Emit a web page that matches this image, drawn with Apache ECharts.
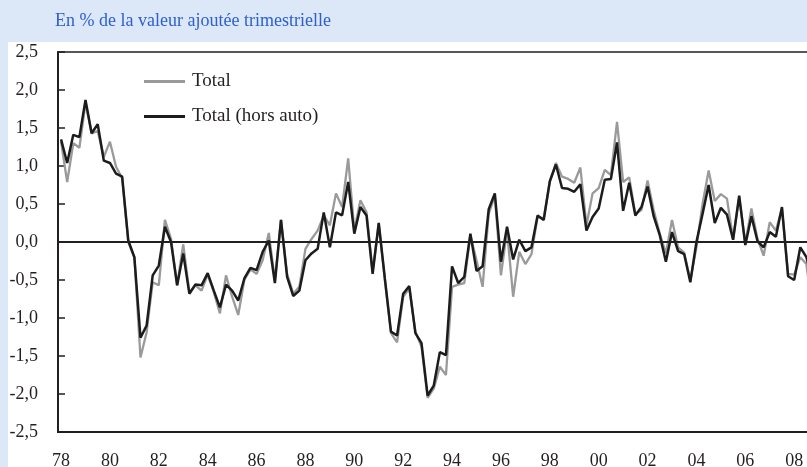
<!DOCTYPE html>
<html style="height: 100%">
	<head>
		<meta charset="utf-8">
	</head>
	<body style="height: 100%; margin: 0; background: #dce8f7; overflow: hidden">
		<div id="container" style="width: 840px; height: 467px"></div>
		<script type="text/javascript" src="https://cdn.jsdelivr.net/npm/echarts@6/dist/echarts.min.js"></script>
		<script type="text/javascript">
			// trimestres 1978T1 .. 2009T4 (axe plus long que la fenetre, coupé à droite)
			var quarters = [];
			for (var y = 1978; y <= 2009; y++) {
				for (var q = 1; q <= 4; q++) {
					quarters.push(y + 'T' + q);
				}
			}

			// Total
			var total = [
				1.32, 0.79, 1.30, 1.24, 1.83, 1.43, 1.46, 1.12, 1.32, 0.99,
				0.84, 0.00, -0.20, -1.52, -1.19, -0.53, -0.57, 0.29, 0.04, -0.57,
				-0.03, -0.66, -0.57, -0.64, -0.43, -0.66, -0.94, -0.44, -0.72, -0.96,
				-0.50, -0.36, -0.42, -0.24, 0.12, -0.50, 0.29, -0.42, -0.68, -0.59,
				-0.09, 0.04, 0.15, 0.35, 0.22, 0.64, 0.46, 1.10, 0.15, 0.55,
				0.39, -0.39, 0.24, -0.50, -1.20, -1.32, -0.72, -0.61, -1.18, -1.38,
				-2.05, -1.93, -1.64, -1.75, -0.59, -0.56, -0.54, 0.09, -0.24, -0.59,
				0.37, 0.61, -0.44, 0.15, -0.72, -0.13, -0.29, -0.16, 0.33, 0.31,
				0.79, 1.04, 0.86, 0.83, 0.78, 0.98, 0.22, 0.64, 0.71, 0.95,
				0.88, 1.58, 0.79, 0.85, 0.37, 0.42, 0.81, 0.42, 0.11, -0.15,
				0.29, -0.07, -0.14, -0.50, -0.07, 0.50, 0.94, 0.54, 0.63, 0.57,
				0.04, 0.59, -0.02, 0.44, 0.04, -0.18, 0.26, 0.15, 0.44, -0.42,
				-0.43, -0.20, -0.29, -0.90
			];

			// Total (hors auto)
			var horsAuto = [
				1.35, 1.04, 1.41, 1.38, 1.87, 1.43, 1.55, 1.07, 1.04, 0.90,
				0.86, 0.02, -0.20, -1.26, -1.10, -0.44, -0.31, 0.20, 0.00, -0.57,
				-0.15, -0.68, -0.56, -0.57, -0.41, -0.64, -0.86, -0.56, -0.64, -0.77,
				-0.48, -0.34, -0.37, -0.13, 0.02, -0.54, 0.29, -0.46, -0.71, -0.64,
				-0.24, -0.15, -0.09, 0.39, -0.07, 0.39, 0.35, 0.79, 0.11, 0.46,
				0.35, -0.42, 0.25, -0.48, -1.18, -1.23, -0.68, -0.58, -1.20, -1.33,
				-2.02, -1.89, -1.45, -1.49, -0.32, -0.54, -0.46, 0.11, -0.38, -0.32,
				0.43, 0.64, -0.26, 0.20, -0.23, 0.03, -0.12, -0.07, 0.35, 0.29,
				0.80, 1.02, 0.71, 0.70, 0.66, 0.76, 0.15, 0.33, 0.44, 0.82,
				0.83, 1.31, 0.41, 0.78, 0.35, 0.46, 0.73, 0.34, 0.09, -0.26,
				0.13, -0.12, -0.16, -0.53, 0.00, 0.37, 0.75, 0.25, 0.45, 0.36,
				0.03, 0.61, -0.04, 0.34, 0.01, -0.07, 0.13, 0.07, 0.46, -0.45,
				-0.50, -0.07, -0.20, -0.50
			];

			var font = 'Liberation Serif';
			var ink = '#231f20';

			var dom = document.getElementById("container");
			var myChart = echarts.init(dom);
			var option = {
				backgroundColor: '#dce8f7',
				animation: false,
				graphic: [{
					type: 'rect',
					left: 8,
					top: 42,
					z: -10,
					shape: { width: 840, height: 426 },
					style: { fill: '#ffffff' }
				}],
				title: {
					text: 'En % de la valeur ajoutée trimestrielle',
					left: 50,
					top: 7,
					textStyle: {
						fontFamily: font,
						fontWeight: 'normal',
						fontSize: 18,
						color: '#2d5fd0'
					}
				},
				legend: {
					orient: 'vertical',
					left: 144,
					top: 72,
					padding: 0,
					icon: 'rect',
					itemWidth: 41,
					itemHeight: 3,
					itemGap: 16,
					textStyle: {
						fontFamily: font,
						fontSize: 19,
						color: ink,
						padding: [0, 0, 0, 2]
					},
					data: ['Total', 'Total (hors auto)']
				},
				grid: {
					left: 58,
					top: 52,
					right: 0,
					height: 380,
					outerBoundsMode: 'none',
					show: true,
					borderColor: ink,
					borderWidth: 1.5,
					backgroundColor: 'transparent'
				},
				xAxis: {
					type: 'category',
					data: quarters,
					boundaryGap: true,
					axisLine: {
						onZero: false,
						lineStyle: { color: ink, width: 2 }
					},
					axisTick: {
						inside: true,
						interval: 3,
						length: 6,
						lineStyle: { color: ink, width: 1.5 }
					},
					axisLabel: {
						interval: 7,
						margin: 20,
						fontFamily: font,
						fontSize: 18,
						color: ink,
						formatter: function(val) {
							return val.substr(2, 2);
						}
					},
					splitLine: { show: false }
				},
				yAxis: {
					type: 'value',
					min: -2.5,
					max: 2.5,
					interval: 0.5,
					axisLine: {
						show: true,
						lineStyle: { color: ink, width: 2 }
					},
					axisTick: {
						show: true,
						inside: true,
						length: 7,
						lineStyle: { color: ink, width: 1.5 }
					},
					axisLabel: {
						margin: 20,
						fontFamily: font,
						fontSize: 18,
						color: ink,
						formatter: function(val) {
							return val.toFixed(1).replace('.', ',');
						}
					},
					splitLine: { show: false }
				},
				series: [{
					name: 'Total',
					type: 'line',
					data: total,
					showSymbol: false,
					symbol: 'none',
					color: '#9a9a9a',
					lineStyle: { color: '#9a9a9a', width: 2.3 }
				}, {
					name: 'Total (hors auto)',
					type: 'line',
					data: horsAuto,
					showSymbol: false,
					symbol: 'none',
					color: '#1c1c1c',
					lineStyle: { color: '#1c1c1c', width: 2.5 },
					markLine: {
						silent: true,
						symbol: ['none', 'none'],
						label: { show: false },
						lineStyle: { color: ink, type: 'solid', width: 1.8 },
						data: [{ yAxis: 0 }]
					}
				}]
			};
			myChart.setOption(option, true);
		</script>
	</body>
</html>
